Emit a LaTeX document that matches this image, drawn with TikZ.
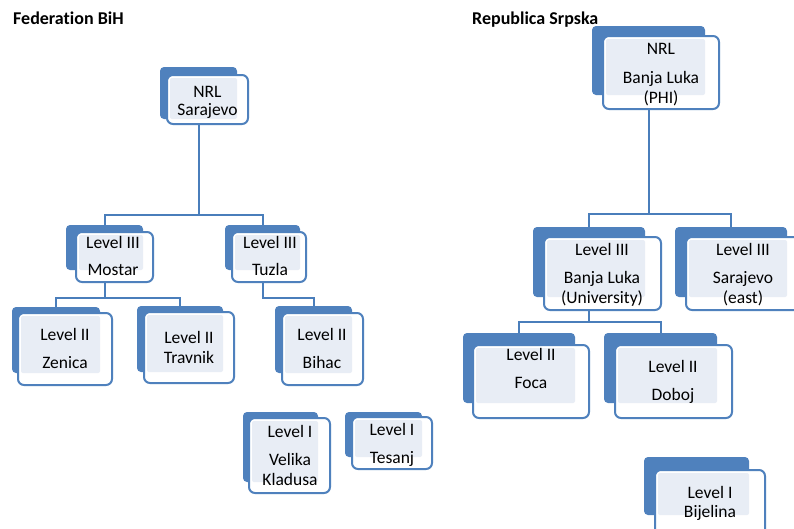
\documentclass[tikz,border=0pt]{standalone}
\usepackage{fontspec}
\setmainfont[Ligatures=NoCommon]{Carlito}
\definecolor{ofblue}{HTML}{4F81BD}
\definecolor{lnblue}{HTML}{4A7EBB}
\definecolor{patcol}{HTML}{E8EDF5}
\pgfdeclarelayer{bg}
\pgfsetlayers{bg,main}
\tikzset{
  backbox/.style={fill=ofblue, draw=none, rounded corners=4pt, inner sep=0pt, outer sep=0pt},
  frontbox/.style={fill=white, draw=ofblue, line width=2pt, rounded corners=6pt, inner sep=0pt, outer sep=0pt},
  patfill/.style={fill=patcol, rounded corners=2pt},
  lbl/.style={anchor=base, inner sep=0pt, font=\fontsize{17.5}{21}\selectfont, text=black},
  hdr/.style={anchor=base west, inner sep=0pt, font=\fontsize{18}{21}\selectfont\bfseries, text=black},
  conn/.style={draw=lnblue, line width=2pt},
}
\newcommand{\orgbox}[9]{%
  \node[backbox, minimum width={(#4-#2)*1pt}, minimum height={(#5-#3)*1pt}] (#1) at ({(#2+#4)/2},{(#3+#5)/2}) {};
  \node[frontbox, minimum width={(#8-#6)*1pt}, minimum height={(#9-#7)*1pt}] (#1f) at ({(#6+#8)/2},{(#7+#9)/2}) {};
  \fill[patfill] ({#6+3},{#7+3}) rectangle (#4,#5);
}
\begin{document}
\begin{tikzpicture}[x=1pt,y=-1pt]
\useasboundingbox (0,0) rectangle (794,528);
\clip (0,0) rectangle (794,528);

% headers
\node[hdr] (h1) at (13,24) {Federation BiH};
\node[hdr] (h2) at (472,24) {Republica Srpska};

% Federation BiH
\orgbox{nrls}{160}{67}{237}{119}{167}{75}{248}{124}
\node[lbl] (nrls1) at (207.5,97) {NRL};
\node[lbl] (nrls2) at (207.5,115) {Sarajevo};

\orgbox{mostar}{66}{225}{143}{270}{76}{232}{153}{282}
\node[lbl] (mostar1) at (113,248) {Level III};
\node[lbl] (mostar2) at (113,275) {Mostar};

\orgbox{tuzla}{225}{225}{300}{270}{232}{232}{306}{282}
\node[lbl] (tuzla1) at (270,248) {Level III};
\node[lbl] (tuzla2) at (270,275) {Tuzla};

\orgbox{zenica}{12}{307}{100}{373}{18}{313}{112}{385}
\node[lbl] (zenica1) at (65,340) {Level II};
\node[lbl] (zenica2) at (65,368) {Zenica};

\orgbox{travnik}{137}{306}{223}{372}{144}{312}{234}{383}
\node[lbl] (travnik1) at (189,343) {Level II};
\node[lbl] (travnik2) at (189,363) {Travnik};

\orgbox{bihac}{275}{306}{352}{373}{282}{313}{363}{385}
\node[lbl] (bihac1) at (322,340) {Level II};
\node[lbl] (bihac2) at (322,368) {Bihac};

\orgbox{velika}{243}{412}{318}{482}{249}{418}{330}{493}
\node[lbl] (velika1) at (290,437) {Level I};
\node[lbl] (velika2) at (290,465) {Velika};
\node[lbl] (velika3) at (290,485) {Kladusa};

\orgbox{tesanj}{345}{412}{422}{457}{352}{417}{432}{469}
\node[lbl] (tesanj1) at (392,435) {Level I};
\node[lbl] (tesanj2) at (392,463) {Tesanj};

% Republica Srpska
\orgbox{nrlbl}{592}{26}{705}{95}{603}{36}{719}{109}
\node[lbl] (nrlbl1) at (661,54) {NRL};
\node[lbl] (nrlbl2) at (661,83) {Banja Luka};
\node[lbl] (nrlbl3) at (661,103) {(PHI)};

\orgbox{blu}{533}{227}{645}{297}{544}{237}{661}{310}
\node[lbl] (blu1) at (602,255) {Level III};
\node[lbl] (blu2) at (602,283) {Banja Luka};
\node[lbl] (blu3) at (602,303) {(University)};

\orgbox{saje}{675}{227}{787}{297}{686}{237}{803}{310}
\node[lbl] (saje1) at (743,255) {Level III};
\node[lbl] (saje2) at (743,283) {Sarajevo};
\node[lbl] (saje3) at (743,303) {(east)};

\orgbox{foca}{463}{333}{575}{403}{473}{345}{589}{418}
\node[lbl] (foca1) at (531,360) {Level II};
\node[lbl] (foca2) at (531,388) {Foca};

\orgbox{doboj}{604}{333}{717}{403}{615}{345}{732}{418}
\node[lbl] (doboj1) at (673,372) {Level II};
\node[lbl] (doboj2) at (673,400) {Doboj};

\orgbox{bijelina}{644}{457}{749}{515}{655}{470}{765}{540}
\node[lbl] (bijelina1) at (710,498) {Level I};
\node[lbl] (bijelina2) at (710,517) {Bijelina};

% connectors
\coordinate (jf1) at (0,215);
\coordinate (jf2) at (0,298);
\coordinate (jr1) at (0,214);
\coordinate (jr2) at (0,322);
\begin{pgfonlayer}{bg}
\fill[white] (0,0) rectangle (794,528);
\draw[conn] (nrls.center) -- (nrls.center |- jf1) -| (mostar.center);
\draw[conn] (nrls.center |- jf1) -| (tuzla.center);
\draw[conn] (mostar.center) -- (mostar.center |- jf2) -| (zenica.center);
\draw[conn] (mostar.center |- jf2) -| (travnik.center);
\draw[conn] (tuzla.center) -- (tuzla.center |- jf2) -| (bihac.center);
\draw[conn] (nrlbl.center) -- (nrlbl.center |- jr1) -| (blu.center);
\draw[conn] (nrlbl.center |- jr1) -| (saje.center);
\draw[conn] (blu.center) -- (blu.center |- jr2) -| (foca.center);
\draw[conn] (blu.center |- jr2) -| (doboj.center);
\end{pgfonlayer}
\end{tikzpicture}
\end{document}
